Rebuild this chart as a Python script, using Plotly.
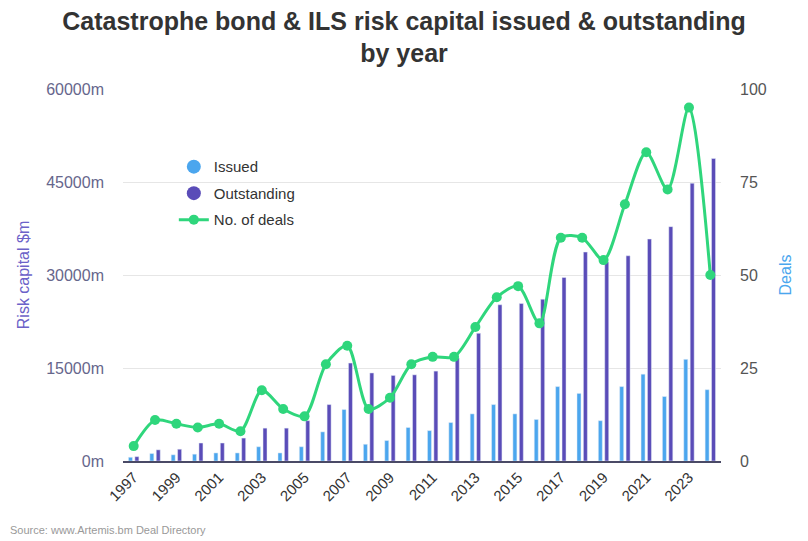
import plotly.graph_objects as go

# Catastrophe bond & ILS market by year (risk capital in $m, deal counts)
years = [str(y) for y in range(1997, 2025)]
issued = [600, 1200, 1000, 1100, 1300, 1300, 2300, 1300, 2300, 4700,
          8300, 2700, 3300, 5400, 4900, 6200, 7600, 9100, 7600, 6700,
          12000, 10900, 6500, 12000, 14000, 10400, 16400, 11500]
outstanding = [700, 1800, 1900, 2900, 2900, 3700, 5300, 5300, 6500, 9100,
               15800, 14200, 13800, 13900, 14500, 16600, 20600, 25200, 25400, 26100,
               29600, 33700, 32100, 33100, 35800, 37800, 44800, 48800]
deals = [4, 11, 10, 9, 10, 8, 19, 14, 12, 26,
         31, 14, 17, 26, 28, 28, 36, 44, 47, 37,
         60, 60, 54, 69, 83, 73, 95, 50]
tick_years = [str(y) for y in range(1997, 2024, 2)]

ISSUED_COLOR = "#4ba6ee"
OUTSTANDING_COLOR = "#5a4cb8"
DEALS_COLOR = "#2fd67c"
FONT = "Liberation Sans, Arial, sans-serif"

fig = go.Figure()

fig.add_trace(go.Bar(x=years, y=issued, name="Issued", marker_color=ISSUED_COLOR,
                     showlegend=False, legendgroup="issued"))
fig.add_trace(go.Bar(x=years, y=outstanding, name="Outstanding",
                     marker_color=OUTSTANDING_COLOR, showlegend=False,
                     legendgroup="outstanding"))
fig.add_trace(go.Scatter(x=years, y=deals, name="No. of deals", yaxis="y2",
                         mode="lines+markers", legendgroup="deals",
                         line=dict(color=DEALS_COLOR, width=3, shape="spline", smoothing=0.8),
                         marker=dict(color=DEALS_COLOR, size=10),
                         legendrank=3))

# round legend keys for the two bar series
fig.add_trace(go.Scatter(x=[None], y=[None], mode="markers", name="Issued",
                         legendgroup="issued", legendrank=1,
                         marker=dict(color=ISSUED_COLOR, size=14, symbol="circle")))
fig.add_trace(go.Scatter(x=[None], y=[None], mode="markers", name="Outstanding",
                         legendgroup="outstanding", legendrank=2,
                         marker=dict(color=OUTSTANDING_COLOR, size=14, symbol="circle")))

fig.update_layout(
    width=808, height=541,
    margin=dict(l=123, r=87, t=89, b=80),
    paper_bgcolor="white", plot_bgcolor="white",
    font=dict(family=FONT, color="#333333"),
    title=dict(text="Catastrophe bond & ILS risk capital issued & outstanding<br>by year",
               x=0.5, xanchor="center", y=0.945, yanchor="top",
               font=dict(family=FONT, size=25, color="#333333", weight="bold")),
    barmode="group", bargap=0.4, bargroupgap=0.375,
    showlegend=True,
    legend=dict(x=0.085, y=0.835, xanchor="left", yanchor="top",
                bgcolor="rgba(0,0,0,0)", font=dict(size=15, color="#333333"),
                traceorder="grouped", tracegroupgap=4),
    xaxis=dict(type="category", categoryorder="array", categoryarray=years,
               range=[-0.5, len(years) - 0.5],
               tickmode="array", tickvals=tick_years, ticktext=tick_years,
               tickangle=-45, tickfont=dict(size=15, color="#333333"),
               showgrid=False, showline=True, linecolor="#4a4a66", linewidth=1.5,
               ticks=""),
    yaxis=dict(range=[0, 60000], tickmode="linear", tick0=0, dtick=15000,
               ticksuffix="m", tickformat="d",
               tickfont=dict(size=16, color="#66668c"),
               gridcolor="#e6e6e6", gridwidth=1, zeroline=False,
               ticklabelstandoff=18,
               title=dict(text="Risk capital $m", standoff=12,
                          font=dict(size=16, color="#6c62c8"))),
    yaxis2=dict(range=[0, 100], tickmode="linear", tick0=0, dtick=25,
                overlaying="y", side="right", showgrid=False, zeroline=False,
                tickfont=dict(size=16, color="#555555"),
                ticklabelstandoff=18,
                title=dict(text="Deals", standoff=14,
                           font=dict(size=16, color="#4ba6ee"))),
    annotations=[dict(text="Source: www.Artemis.bm Deal Directory",
                      xref="paper", yref="paper", x=(8 - 123) / 598, y=-69 / 372,
                      xanchor="left", yanchor="middle", showarrow=False,
                      font=dict(size=11, color="#999999"))],
)

fig.write_html("out.html")
